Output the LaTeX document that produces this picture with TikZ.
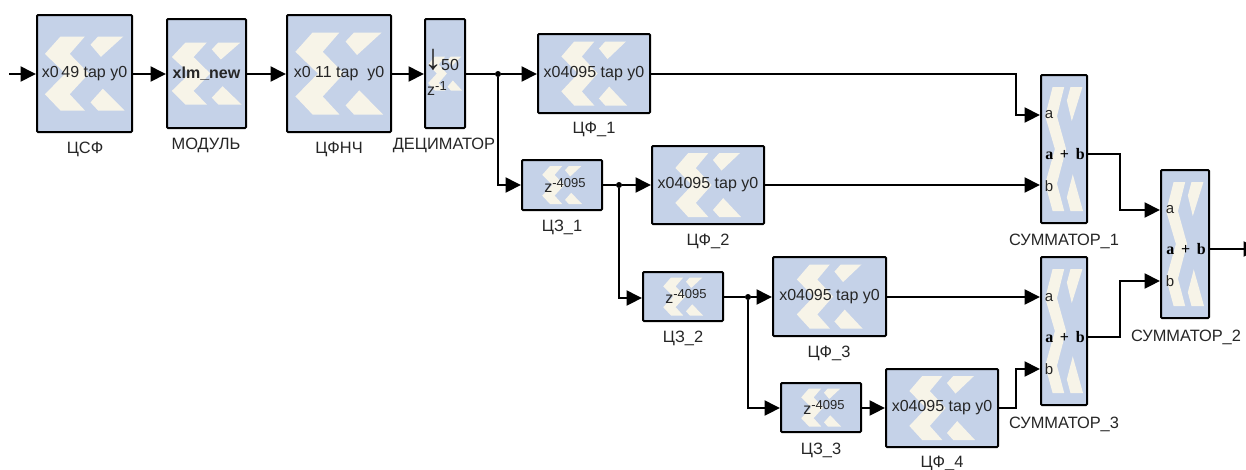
\documentclass[tikz,border=0pt]{standalone}
\usepackage{fontspec}
\setmainfont{Liberation Sans}
\newfontfamily\serifbold{Liberation Serif}[Scale=1]
\usetikzlibrary{arrows.meta}
\definecolor{blockcol}{HTML}{C5D2E8}
\definecolor{logocol}{HTML}{F7F4E8}
\tikzstyle{wire}=[line width=2,-{Triangle[length=15.5pt,width=15pt]}]
\tikzstyle{line}=[line width=2]
\tikzstyle{dot}=[circle,fill=black,inner sep=0,minimum size=6pt]
\tikzstyle{lbl}=[inner sep=0,yshift=-2pt,text=black!85,font=\fontsize{16.4}{18}\selectfont]
\tikzstyle{txt}=[inner sep=0,text=black!85,font=\fontsize{16}{18}\selectfont]
\tikzstyle{port}=[inner sep=0,text=black!85,font=\fontsize{15}{16}\selectfont]
\tikzstyle{sumout}=[inner sep=0,font=\serifbold\bfseries\fontsize{16}{16}\selectfont]
\newcommand{\zdelay}[2][13]{z\raisebox{5pt}{\fontsize{#1}{#1}\selectfont -#2}}
\begin{document}
\begin{tikzpicture}[x=1pt,y=-1pt,
                    BK/.style args = {#1/#2/#3/#4}{
                              draw, line width=2, fill=blockcol, rounded corners=1,
                              minimum width=#1, minimum height=#2, inner sep=0,
                              path picture={
                                \begin{scope}[shift={(path picture bounding box.center)},
                                              x=#3pt, y=-#4pt]
                                  \fill[logocol,sharp corners] (-.99,.56) -- (-.6,1) -- (.01,1) -- (-.37,.56) -- (.11,0)
                                        -- (-.37,-.53) -- (.01,-1) -- (-.6,-1) -- (-.99,-.53) -- (-.48,0) -- cycle;
                                  \fill[logocol,sharp corners] (.15,.78) -- (.34,1) -- (1,1) -- (.46,.41) -- cycle;
                                  \fill[logocol,sharp corners] (.15,-.78) -- (.41,-.45) -- (.97,-1) -- (.34,-1) -- cycle;
                                \end{scope}}}
               ]
               \useasboundingbox (0,0) rectangle (1246,469);
               \fill[white] (0,0) rectangle (1246,469);

               % top row
               \node[BK=95pt/117pt/40/37, label={[txt]center:x0\,49 tap y0}] (csf) at (84.5,73.5) {};
               \node[BK=79pt/109pt/35/31, label={[txt]center:\textbf{xlm\_new}}] (mod) at (206.5,73.5) {};
               \node[BK=104pt/117pt/44/41, label={[txt]center:x0 11 tap \ y0}] (fnch) at (339,73.5) {};
               \node[BK=40pt/109pt/17/17] (dec) at (445,73.5) {};
               \node[BK=112pt/79pt/33/32, label={[txt]center:x04095 tap y0}] (cf1) at (594,73.5) {};
               % delay chain
               \node[BK=80pt/50pt/20/19, label={[txt,xshift=3pt]center:\zdelay{4095}}] (cz1) at (562,185) {};
               \node[BK=112pt/78pt/33/32, label={[txt]center:x04095 tap y0}] (cf2) at (708,185) {};
               \node[BK=80pt/49pt/20/19, label={[txt,xshift=3pt]center:\zdelay{4095}}] (cz2) at (683,296.5) {};
               \node[BK=113pt/79pt/33/32, label={[txt]center:x04095 tap y0}] (cf3) at (829.5,296.5) {};
               \node[BK=80pt/49pt/20/19, label={[txt,xshift=3pt]center:\zdelay{4095}}] (cz3) at (821,407.5) {};
               \node[BK=112pt/78pt/33/32, label={[txt]center:x04095 tap y0}] (cf4) at (942,408) {};
               % adders
               \node[BK=46pt/148pt/19/62] (sum1) at (1064,149) {};
               \node[BK=46pt/148pt/19/62] (sum3) at (1064,331) {};
               \node[BK=48pt/148pt/19/62] (sum2) at (1185,244) {};

               % decimator text
               \node[txt,font=\fontsize{36}{36}\selectfont] (decarrow) at (433,60) {↓};
               \node[txt] (decn) at (450,65) {50};
               \node[txt] (decz) at (437,89) {\zdelay{1}};

               % ports
               \node[port] (s1a) at (1049,115) {a};
               \node[port] (s1b) at (1049,186) {b};
               \node[sumout] (s1s) at (1065,154) {a \,+\, b};
               \node[port] (s3a) at (1049,298) {a};
               \node[port] (s3b) at (1049,369) {b};
               \node[sumout] (s3s) at (1065,337) {a \,+\, b};
               \node[port] (s2a) at (1170,210) {a};
               \node[port] (s2b) at (1170,281) {b};
               \node[sumout] (s2s) at (1186,249) {a \,+\, b};

               % labels
               \node[lbl] (lcsf) at (85,147) {ЦСФ};
               \node[lbl] (lmod) at (206,143) {МОДУЛЬ};
               \node[lbl] (lfnch) at (339,147) {ЦФНЧ};
               \node[lbl] (ldec) at (444,143) {ДЕЦИМАТОР};
               \node[lbl] (lcf1) at (594,127) {ЦФ\_1};
               \node[lbl] (lcz1) at (562,225) {ЦЗ\_1};
               \node[lbl] (lcf2) at (708,239) {ЦФ\_2};
               \node[lbl] (lcz2) at (683,336) {ЦЗ\_2};
               \node[lbl] (lcf3) at (829,351) {ЦФ\_3};
               \node[lbl] (lcz3) at (821,448) {ЦЗ\_3};
               \node[lbl] (lcf4) at (942,461) {ЦФ\_4};
               \node[lbl] (ls1) at (1064,239) {СУММАТОР\_1};
               \node[lbl] (ls2) at (1186,335) {СУММАТОР\_2};
               \node[lbl] (ls3) at (1064,422) {СУММАТОР\_3};

               % junctions
               \node[dot] (j1) at (498,74) {};
               \node[dot] (j2) at (619,185) {};
               \node[dot] (j3) at (748,297) {};
               \coordinate (inp) at (9,74);
               \coordinate (outp) at (1259,249);
               \coordinate (b1) at (1016,95);
               \coordinate (b2) at (1120,180);
               \coordinate (b3) at (1120,310);
               \coordinate (b4) at (1016,390);

               % connectors
               \draw[wire] (inp) -- (csf.west |- inp);
               \draw[wire] (csf.east |- inp) -- (mod.west |- inp);
               \draw[wire] (mod.east |- inp) -- (fnch.west |- inp);
               \draw[wire] (fnch.east |- inp) -- (dec.west |- inp);
               \draw[line] (dec.east |- inp) -- (j1);
               \draw[wire] (j1) -- (cf1.west |- j1);
               \draw[wire] (j1) |- (cz1.west);
               \draw[line] (cz1.east) -- (j2);
               \draw[wire] (j2) -- (cf2.west);
               \draw[wire] (j2) |- (cz2.west |- s3a);
               \draw[line] (cz2.east |- j3) -- (j3);
               \draw[wire] (j3) -- (cf3.west |- j3);
               \draw[wire] (j3) |- (cz3.west |- cf4.west);
               \draw[wire] (cz3.east |- cf4.west) -- (cf4.west);

               \draw[wire] (cf1.east |- j1) -| (b1) |- (sum1.west |- s1a);
               \draw[wire] (cf2.east) -- (sum1.west |- cf2.east);
               \draw[wire] (cf3.east |- j3) -- (sum3.west |- j3);
               \draw[wire] (cf4.east) -| (b4) |- (sum3.west |- s3b);
               \draw[wire] (sum1.east |- s1s) -| (b2) |- (sum2.west |- s2a);
               \draw[wire] (sum3.east |- s3s) -| (b3) |- (sum2.west |- s2b);
               \draw[wire] (sum2.east |- s2s) -- (outp);
          \end{tikzpicture}
\end{document}
